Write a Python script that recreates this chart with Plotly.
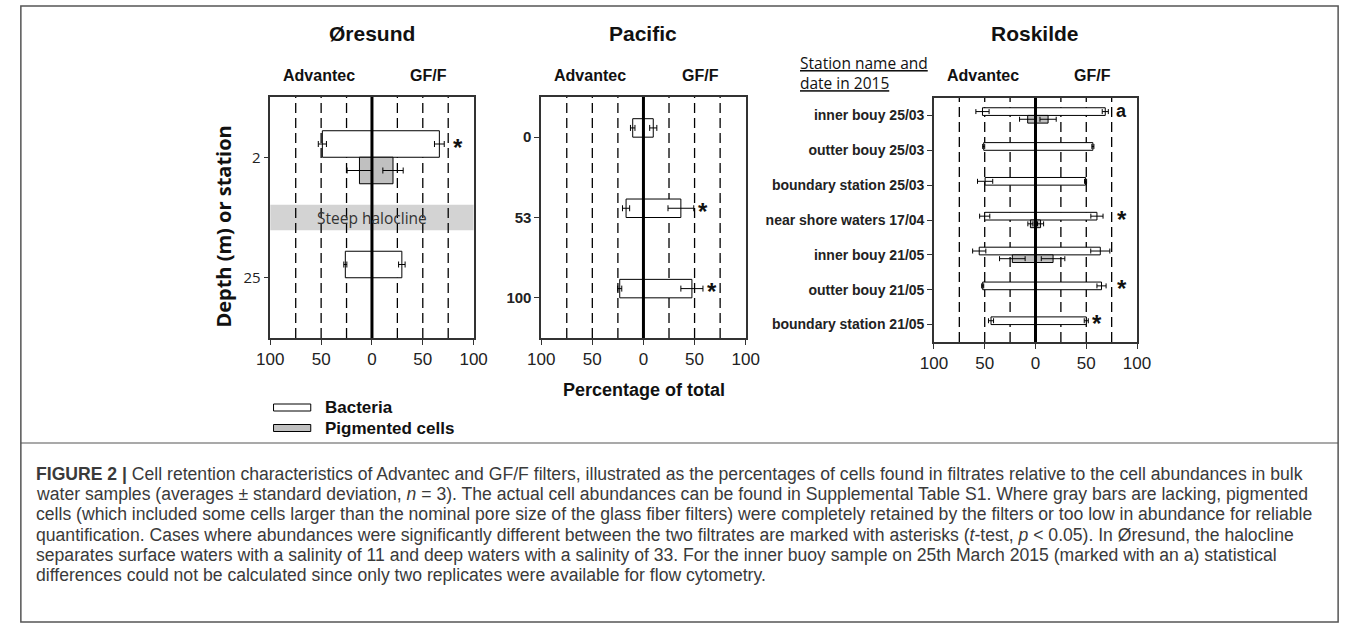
import plotly.graph_objects as go

# ---------------- data ----------------
oresund_depths = ["2", "25"]
oresund_bact_adv = [48.8, 26.2]
oresund_bact_adv_sd = [4.0, 1.5]
oresund_bact_gff = [66.3, 29.4]
oresund_bact_gff_sd = [4.8, 3.2]
oresund_pig_adv = [12.3, None]
oresund_pig_adv_sd = [12.2, None]
oresund_pig_gff = [20.7, None]
oresund_pig_gff_sd = [10.0, None]
oresund_marks = ["*", ""]

pacific_depths = ["0", "53", "100"]
pacific_bact_adv = [10.5, 17.0, 23.2]
pacific_bact_adv_sd = [2.2, 3.5, 2.0]
pacific_bact_gff = [9.6, 36.6, 47.4]
pacific_bact_gff_sd = [3.5, 12.6, 10.8]
pacific_pig_adv = [None, None, None]
pacific_pig_adv_sd = [None, None, None]
pacific_pig_gff = [None, None, None]
pacific_pig_gff_sd = [None, None, None]
pacific_marks = ["", "*", "*"]

roskilde_stations = ["inner bouy 25/03", "outter bouy 25/03", "boundary station 25/03",
                     "near shore waters 17/04", "inner bouy 21/05", "outter bouy 21/05",
                     "boundary station 21/05"]
roskilde_bact_adv = [52.2, 51.0, 49.6, 50.0, 55.4, 52.0, 43.8]
roskilde_bact_adv_sd = [6.5, 1.0, 7.5, 5.0, 6.5, 1.0, 2.5]
roskilde_bact_gff = [68.7, 56.5, 49.3, 60.5, 63.8, 65.0, 50.0]
roskilde_bact_gff_sd = [3.0, 1.0, 1.0, 6.0, 9.4, 4.5, 2.0]
roskilde_pig_adv = [7.7, None, None, 5.0, 22.8, None, None]
roskilde_pig_adv_sd = [8.0, None, None, 2.5, 12.6, None, None]
roskilde_pig_gff = [12.4, None, None, 5.0, 17.3, None, None]
roskilde_pig_gff_sd = [8.0, None, None, 3.0, 11.6, None, None]
roskilde_marks = ["a", "", "", "*", "", "*", "*"]

x_tickvals = [-100, -50, 0, 50, 100]
x_ticktext = ["100", "50", "0", "50", "100"]
grid_vals = [-75, -50, -25, 25, 50, 75]

caption_lines = [
    "<b>FIGURE 2 |</b> Cell retention characteristics of Advantec and GF/F filters, illustrated as the percentages of cells found in filtrates relative to the cell abundances in bulk",
    "water samples (averages ± standard deviation, <i>n</i> = 3). The actual cell abundances can be found in Supplemental Table S1. Where gray bars are lacking, pigmented",
    "cells (which included some cells larger than the nominal pore size of the glass fiber filters) were completely retained by the filters or too low in abundance for reliable",
    "quantification. Cases where abundances were significantly different between the two filtrates are marked with asterisks (<i>t</i>-test, <i>p</i> &lt; 0.05). In Øresund, the halocline",
    "separates surface waters with a salinity of 11 and deep waters with a salinity of 33. For the inner buoy sample on 25th March 2015 (marked with an a) statistical",
    "differences could not be calculated since only two replicates were available for flow cytometry.",
]

# ---------------- layout helpers ----------------
W, H = 1358, 629
def X(px): return px / W
def Y(py): return 1 - py / H

ARIAL = "Liberation Sans, Arial, sans-serif"
OPEN = "Open Sans, Noto Sans, sans-serif"
BAR_GREY = "#c0c0c0"

panels = [
    dict(ax="", title="Øresund", xpx=(261.7, 469.3), ypx=(97, 338), cats=oresund_depths,
         badv=oresund_bact_adv, badv_sd=oresund_bact_adv_sd, bgff=oresund_bact_gff, bgff_sd=oresund_bact_gff_sd,
         padv=oresund_pig_adv, padv_sd=oresund_pig_adv_sd, pgff=oresund_pig_gff, pgff_sd=oresund_pig_gff_sd,
         marks=oresund_marks, w=0.22, cap=3, tickfont=dict(family=OPEN, size=15, color="#222")),
    dict(ax="2", title="Pacific", xpx=(538.3, 747.1), ypx=(97, 338), cats=pacific_depths,
         badv=pacific_bact_adv, badv_sd=pacific_bact_adv_sd, bgff=pacific_bact_gff, bgff_sd=pacific_bact_gff_sd,
         padv=pacific_pig_adv, padv_sd=pacific_pig_adv_sd, pgff=pacific_pig_gff, pgff_sd=pacific_pig_gff_sd,
         marks=pacific_marks, w=0.23, cap=3, tickfont=dict(family=ARIAL, size=15, color="#222", weight="bold")),
    dict(ax="3", title="Roskilde", xpx=(939.3, 1146.7), ypx=(98, 342), cats=roskilde_stations,
         badv=roskilde_bact_adv, badv_sd=roskilde_bact_adv_sd, bgff=roskilde_bact_gff, bgff_sd=roskilde_bact_gff_sd,
         padv=roskilde_pig_adv, padv_sd=roskilde_pig_adv_sd, pgff=roskilde_pig_gff, pgff_sd=roskilde_pig_gff_sd,
         marks=roskilde_marks, w=0.22, cap=2.5, tickfont=dict(family=ARIAL, size=14, color="#222", weight="bold")),
]

fig = go.Figure()
shapes = []
annotations = []

def neg(vals):
    return [(-v if v is not None else None) for v in vals]

def ann(**kw):
    kw.setdefault("xanchor", "center")
    kw.setdefault("yanchor", "middle")
    kw.setdefault("showarrow", False)
    annotations.append(kw)

for p in panels:
    xa, ya = "x" + p["ax"], "y" + p["ax"]
    n = len(p["cats"])
    w = p["w"]
    centers = [i + 0.5 for i in range(n)]
    yb = [c - w / 2 for c in centers]
    yp = [c + w / 2 for c in centers]
    err = lambda sd: dict(type="data", array=sd, symmetric=True, color="black",
                          thickness=1, width=p["cap"])
    common = dict(orientation="h", width=w, xaxis=xa, yaxis=ya, showlegend=False,
                  marker_line=dict(color="black", width=1))
    fig.add_trace(go.Bar(x=neg(p["badv"]), y=yb, error_x=err(p["badv_sd"]),
                         marker_color="white", name="Bacteria Advantec", **common))
    fig.add_trace(go.Bar(x=p["bgff"], y=yb, error_x=err(p["bgff_sd"]),
                         marker_color="white", name="Bacteria GF/F", **common))
    fig.add_trace(go.Bar(x=neg(p["padv"]), y=yp, error_x=err(p["padv_sd"]),
                         marker_color=BAR_GREY, name="Pigmented Advantec", **common))
    fig.add_trace(go.Bar(x=p["pgff"], y=yp, error_x=err(p["pgff_sd"]),
                         marker_color=BAR_GREY, name="Pigmented GF/F", **common))

    suffix = p["ax"]
    fig.layout["xaxis" + suffix] = dict(
        domain=[X(p["xpx"][0]), X(p["xpx"][1])], anchor=ya, range=[-100, 100],
        tickvals=x_tickvals, ticktext=x_ticktext, ticks="outside", ticklen=5,
        tickcolor="#333", showgrid=False, zeroline=False, showline=True, mirror=True,
        linecolor="#333", linewidth=1.5, tickfont=dict(family=ARIAL, size=17, color="#222"),
        fixedrange=True)
    fig.layout["yaxis" + suffix] = dict(
        domain=[Y(p["ypx"][1]), Y(p["ypx"][0])], anchor=xa, range=[n, 0],
        tickvals=centers, ticktext=p["cats"], ticks="outside", ticklen=5,
        tickcolor="#333", showgrid=False, zeroline=False, showline=True, mirror=True,
        linecolor="#333", linewidth=1.5, tickfont=p["tickfont"], fixedrange=True)

    if p["title"] == "Øresund":
        shapes.append(dict(type="rect", xref=xa + " domain", yref=ya, x0=0, x1=1,
                           y0=0.895, y1=1.105, fillcolor="#d3d3d3", line=dict(width=0),
                           layer="below"))
        ann(text="Steep halocline", xref=xa, yref=ya, x=0, y=1.0,
            font=dict(family=OPEN, size=15.5, color="#333"))
    for gv in grid_vals:
        shapes.append(dict(type="line", xref=xa, yref=ya + " domain", x0=gv, x1=gv, y0=0, y1=1,
                           line=dict(color="black", width=1.3, dash="10px,5px"), layer="below"))
    shapes.append(dict(type="line", xref=xa, yref=ya + " domain", x0=0, x1=0, y0=0, y1=1,
                       line=dict(color="black", width=3), layer="above"))
    for i, m in enumerate(p["marks"]):
        if m:
            xm = p["bgff"][i] + p["bgff_sd"][i] + 9
            if 68 <= xm <= 82:
                xm = 85
            ann(text="<b>%s</b>" % m, xref=xa, yref=ya, x=xm, y=yb[i],
                yshift=-3 if m == "*" else 1,
                font=dict(family=ARIAL, size=24 if m == "*" else 18, color="#111"))
    cx = (p["xpx"][0] + p["xpx"][1]) / 2
    ann(text="<b>%s</b>" % p["title"], xref="paper", yref="paper", x=X(cx), y=Y(33),
        font=dict(family=ARIAL, size=21, color="#111"))
    ann(text="<b>Advantec</b>", xref=xa, yref="paper", x=-52, y=Y(75),
        font=dict(family=ARIAL, size=16, color="#111"))
    ann(text="<b>GF/F</b>", xref=xa, yref="paper", x=56, y=Y(75),
        font=dict(family=ARIAL, size=16, color="#111"))

ann(text="<b>Depth (m) or station</b>", xref="paper", yref="paper",
    x=X(213), y=Y(227), textangle=-90, font=dict(family=OPEN, size=20, color="#111"))
ann(text="<b>Percentage of total</b>", xref="paper", yref="paper",
    x=X(643), y=Y(390), font=dict(family=ARIAL, size=18, color="#111"))
ann(text="<u>Station name and</u><br><u>date in 2015</u>", xref="paper", yref="paper",
    x=X(800), y=Y(73), xanchor="left", align="left",
    font=dict(family=OPEN, size=15.5, color="#111"))

legend_items = [("Bacteria", "white", 407.5), ("Pigmented cells", BAR_GREY, 428)]
for label, color, yc in legend_items:
    shapes.append(dict(type="rect", xref="paper", yref="paper", x0=X(265), x1=X(303),
                       y0=Y(yc + 3.5), y1=Y(yc - 3.5), fillcolor=color,
                       line=dict(color="black", width=1)))
    ann(text="<b>%s</b>" % label, xref="paper", yref="paper", x=X(315), y=Y(yc),
        xanchor="left", font=dict(family=ARIAL, size=17, color="#111"))

shapes.append(dict(type="rect", xref="paper", yref="paper", x0=X(7), x1=X(1352), y0=Y(622), y1=Y(6),
                   line=dict(color="#555", width=1.5), fillcolor="rgba(0,0,0,0)"))
shapes.append(dict(type="line", xref="paper", yref="paper", x0=X(7), x1=X(1352), y0=Y(443), y1=Y(443),
                   line=dict(color="#555", width=1.2)))

for k, line in enumerate(caption_lines):
    ann(text=line, xref="paper", yref="paper", x=X(20), y=Y(474 + 20.2 * k),
        xanchor="left", align="left", font=dict(family=ARIAL, size=17.6, color="#3a3a3a"))

fig.update_layout(
    width=W, height=H, margin=dict(l=0, r=0, t=0, b=0),
    paper_bgcolor="white", plot_bgcolor="white", barmode="overlay",
    shapes=shapes, annotations=annotations, showlegend=False,
)

fig.write_html("out.html", config={"displayModeBar": False})
